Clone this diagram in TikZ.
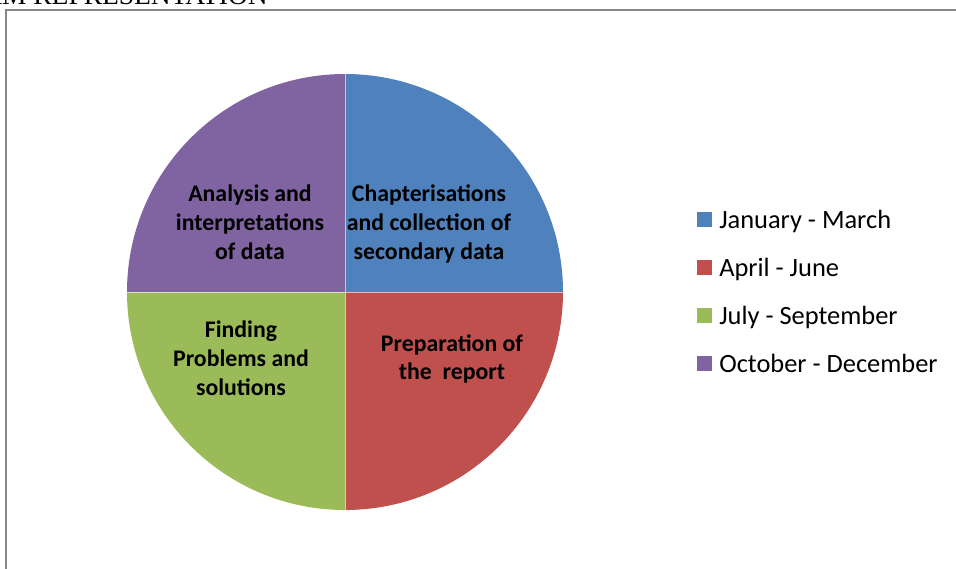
\documentclass[tikz,border=0pt]{standalone}
\usepackage{xcolor}
\usepackage{fontspec}
\setmainfont{Carlito}
\newfontfamily\titlefont{Liberation Serif}
\usetikzlibrary{positioning}
\definecolor{janblue}{HTML}{4F81BD}
\definecolor{aprred}{HTML}{C0504D}
\definecolor{julgreen}{HTML}{9BBB59}
\definecolor{octpurple}{HTML}{8064A2}
\definecolor{framegray}{HTML}{878787}

\begin{document}
\begin{tikzpicture}[x=0.75pt,y=0.75pt,
        sepline/.style={draw=white, line width=0.6pt, draw opacity=0.6},
        slicelabel/.style={font=\fontsize{17.85}{21.6}\selectfont\bfseries, align=center, text=black},
        legendtext/.style={font=\fontsize{19.8}{24}\selectfont, anchor=base west, inner sep=0pt},
        legendkey/.style={minimum size=11.25pt, inner sep=0pt, anchor=south west}]
        \clip (0,0) rectangle (956,568);
        % Title, cut off at the top
        \node[anchor=base east, inner sep=0pt, font={\titlefont\fontsize{20.6}{24}\selectfont}] (title) at (268,563.5) {AM REPRESENTATION};
        % Chart frame
        \draw[framegray, line width=1.1pt] (6,-10) -- (6,558) -- (970,558);
        
        % Pie
        \coordinate (c) at (345,276);
        \foreach \col/\a in {janblue/90, aprred/0, julgreen/-90, octpurple/180}
            \fill[\col] (c) -- ++(\a:218) arc[start angle=\a, end angle=\a-90, radius=218] -- cycle;
        \foreach \a in {90,0,-90,180}
            \draw[sepline] (c) -- ++(\a:218);
        \node[slicelabel] (janlabel) at (429,344) {Chapterisations\\and collection of\\secondary data};
        \node[slicelabel] (aprlabel) at (452,209) {Preparation of\\the\ \ report};
        \node[slicelabel] (jullabel) at (241,210) {Finding\\Problems and\\solutions};
        \node[slicelabel] (octlabel) at (250,346) {Analysis and\\interpretations\\of data};
        
        % Legend
        \foreach \col/\txt [count=\i] in {janblue/January - March, aprred/April - June, julgreen/July - September, octpurple/October - December} {
            \node[legendkey, fill=\col] (key\i) at (697,{341-48*(\i-1)}) {};
            \node[legendtext] (entry\i) at (719,{339.5-48*(\i-1)}) {\txt};
        }
    \end{tikzpicture}
\end{document}
